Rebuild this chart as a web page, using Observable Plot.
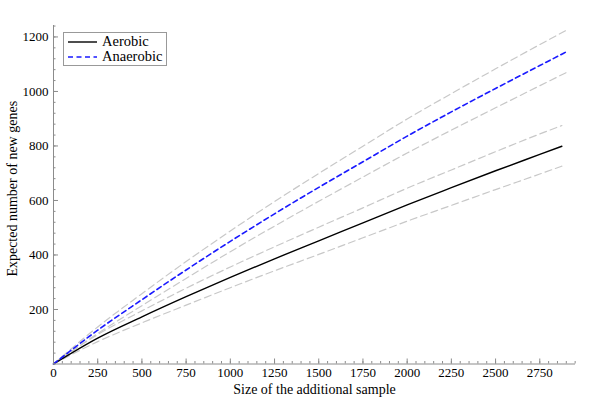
<!DOCTYPE html>
<html>
<head>
<meta charset="utf-8">
<script src="https://cdn.jsdelivr.net/npm/d3@7"></script>
<script src="https://cdn.jsdelivr.net/npm/@observablehq/plot@0.6"></script>
<style>
  html, body { margin: 0; padding: 0; background: #fff; }
  #wrap { position: relative; width: 600px; height: 400px; font-family: "Liberation Serif", "DejaVu Serif", serif; }
  #legend { position: absolute; left: 63px; top: 32px; width: 104px; height: 34px; border: 1px solid #999; background: #fff; font-size: 14.5px; line-height: 15px; box-sizing: border-box; padding-top: 1px; }
  #legend .row { display: flex; align-items: center; height: 15px; }
  #legend svg { margin-left: 4px; margin-right: 5px; }
</style>
</head>
<body>
<div id="wrap">
  <div id="chart"></div>
  <div id="legend"></div>
</div>
<script>
// ---- data ----
const seriesNames = ["Aerobic", "Anaerobic"];

const aerX  = [0, 250, 500, 750, 1000, 1250, 1500, 1750, 2000, 2250, 2500, 2750, 2875];
const aerY  = [0, 95, 173, 247, 318, 386, 452, 518, 584, 647, 709, 769, 799];
const aerHi = [0, 108, 195, 278, 356, 430, 502, 573, 645, 712, 779, 844, 875];
const aerLo = [0, 82, 151, 216, 280, 342, 402, 463, 524, 582, 640, 697, 726];

const anaX  = [0, 250, 500, 750, 1000, 1250, 1500, 1750, 2000, 2250, 2500, 2750, 2905];
const anaY  = [0, 124, 236, 345, 450, 551, 648, 742, 836, 925, 1011, 1095, 1147];
const anaHi = [0, 136, 258, 376, 488, 596, 699, 799, 899, 992, 1083, 1172, 1226];
const anaLo = [0, 112, 214, 314, 412, 506, 597, 686, 774, 858, 940, 1021, 1071];

const xTicks = [0, 250, 500, 750, 1000, 1250, 1500, 1750, 2000, 2250, 2500, 2750];
const yTicks = [200, 400, 600, 800, 1000, 1200];
const xMinor = d3.range(0, 2951, 50);
const yMinor = d3.range(0, 1241, 40);

const xLabel = "Size of the additional sample";
const yLabel = "Expected number of new genes";

// ---- build tables ----
function rows(xs, ys, name, band) {
  return xs.map((x, i) => ({x, y: ys[i], series: name, band}));
}
const meanAer = rows(aerX, aerY, "Aerobic", "mean");
const meanAna = rows(anaX, anaY, "Anaerobic", "mean");
const bands = [
  ...rows(aerX, aerHi, "Aerobic", "hi"),
  ...rows(aerX, aerLo, "Aerobic", "lo"),
  ...rows(anaX, anaHi, "Anaerobic", "hi"),
  ...rows(anaX, anaLo, "Anaerobic", "lo")
];

const axisGrey = "#8c8c8c";
const font = "Liberation Serif, DejaVu Serif, serif";
const fmt = d => String(d);

const chart = Plot.plot({
  width: 600,
  height: 400,
  marginLeft: 53,
  marginRight: 25,
  marginTop: 25,
  marginBottom: 36.5,
  style: {fontFamily: font, fontSize: "13px", color: "#000", background: "#fff"},
  x: {domain: [0, 2952]},
  y: {domain: [0, 1242]},
  marks: [
    // confidence bounds
    Plot.line(bands, {x: "x", y: "y", z: d => d.series + d.band, stroke: "#c8c8c8", strokeWidth: 1.2, strokeDasharray: "7,4", curve: "monotone-x"}),
    // means
    Plot.line(meanAer, {x: "x", y: "y", stroke: "#000", strokeWidth: 1.4, curve: "monotone-x"}),
    Plot.line(meanAna, {x: "x", y: "y", stroke: "#1a1aff", strokeWidth: 1.6, strokeDasharray: "5,3.5", curve: "monotone-x"}),
    // axis lines
    Plot.ruleY([0], {stroke: axisGrey}),
    Plot.ruleX([0], {stroke: axisGrey}),
    // minor ticks
    Plot.axisX(xMinor, {tickSize: -2.5, tickFormat: () => "", stroke: axisGrey, label: null}),
    Plot.axisY(yMinor, {tickSize: -2.5, tickFormat: () => "", stroke: axisGrey, label: null}),
    // major ticks
    Plot.axisX(xTicks, {tickSize: -5, tickPadding: 9, tickFormat: fmt, stroke: axisGrey, fill: "#000", label: null}),
    Plot.axisY(yTicks, {tickSize: -5, tickPadding: 10, tickFormat: fmt, stroke: axisGrey, fill: "#000", label: null}),
    Plot.text([xLabel], {frameAnchor: "bottom", dy: 26, lineAnchor: "middle", fontSize: 14, fill: "#000"}),
    Plot.text([yLabel], {frameAnchor: "left", dx: -41, dy: -6, rotate: -90, textAnchor: "middle", lineAnchor: "middle", fontSize: 14, fill: "#000"})
  ]
});
document.getElementById("chart").appendChild(chart);

// force serif font and tick-label size in the chart
d3.select(chart).selectAll("text, g").style("font-family", "'Liberation Serif', 'DejaVu Serif', serif");
d3.select(chart).selectAll("text")
  .filter(function() { return /^\d+$/.test(this.textContent.trim()); })
  .attr("font-size", 13)
  .style("font-size", "13px")
  .style("font-variant", "normal");

// legend
const legend = d3.select("#legend");
const styles = [
  {stroke: "#000", dash: null, width: 1.4},
  {stroke: "#1a1aff", dash: "5,3.5", width: 1.6}
];
seriesNames.forEach((name, i) => {
  const row = legend.append("div").attr("class", "row");
  const svg = row.append("svg").attr("width", 29).attr("height", 10);
  svg.append("line").attr("x1", 0).attr("x2", 29).attr("y1", 5).attr("y2", 5)
    .attr("stroke", styles[i].stroke).attr("stroke-width", styles[i].width)
    .attr("stroke-dasharray", styles[i].dash);
  row.append("span").text(name);
});
</script>
</body>
</html>
